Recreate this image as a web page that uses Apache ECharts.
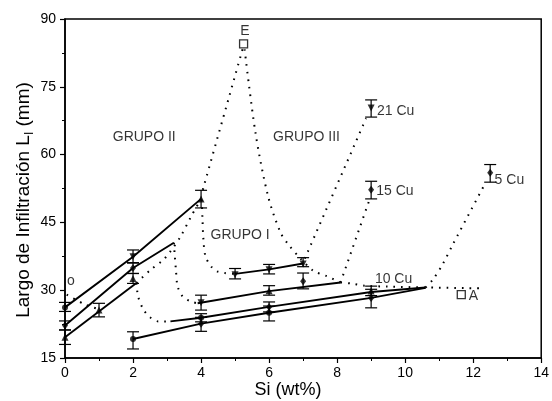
<!DOCTYPE html>
<html><head><meta charset="utf-8">
<script src="https://cdn.jsdelivr.net/npm/echarts@6/dist/echarts.min.js"></script>
<style>html,body{margin:0;padding:0;background:#fff}#c{width:552px;height:401px}</style>
</head><body><div id="c"></div>
<script>
// Solid lines
const line1 = [[0,26.2],[2,37.4],[4,50.2]];
const line2 = [[0,22.2],[2,34.9],[3.2,40.5]];
const line3 = [[0,19.6],[2.1,31.6]];
const line4 = [[3.9,27.1],[6,29.8],[8.1,31.7]];
const line5 = [[3.1,23.1],[4,23.9],[6,26.3],[9,29.6],[10.6,30.6]];
const line6 = [[2,19.2],[4,22.6],[6,25.0],[9,28.3],[10.6,30.5]];
const line7 = [[5,33.6],[6,34.6],[7,35.9]];
// Dotted curves
const dot1 = [[0.05,29],[0.6,26.8],[1,25.8]];
const dot2 = [[2.1,31.6],[2.5,34.4],[2.9,36.8],[3.1,38.6],[3.4,41.9],[3.7,46.2],[4,50.2]];
const dot3 = [[4.05,52.2],[5.22,83.3]];
const dot4 = [[5.28,83.3],[5.6,64.8],[5.97,50.8],[6.34,42.7],[6.6,39.8],[6.9,37.2],[7.3,34.3],[7.7,33.1],[8.1,31.7]];
const dot5 = [[4.02,50],[4.04,46],[4.07,41.2],[4.13,37.5],[4.3,35.2],[4.46,34.2],[4.7,33.8],[5,33.6]];
const dot6 = [[3.2,40.5],[3.22,38.3],[3.26,34.6],[3.31,30.9],[3.46,28.6],[3.7,27.5],[3.9,27.1]];
const dot7 = [[2.1,31.6],[2.15,28.6],[2.3,25.8],[2.5,24],[2.75,23.1],[3.1,23.1]];
const dot8 = [[7.05,37],[8.85,68]];
const dot9 = [[8.1,31.7],[8.96,50.2]];
const dot10 = [[8.1,31.7],[8.4,31.5],[8.8,31],[9.5,30.8],[10.6,30.6],[12.3,30.4]];
const dot11 = [[10.6,30.6],[10.8,32.2],[11.1,35.7],[11.4,40.1],[12.35,53.6]];
// Markers
const downTri = [[2,37.4],[4,27.2],[5,33.4],[6,34.5],[7,35.8],[9,70.3]];
const upTri = [[0,19.6],[2,32.6],[4,50.2],[6,29.9],[9,29.8],[1,25.6]];
const diamonds = [[0,22.2],[2,34.9],[4,22.6],[6,26.3],[7,32],[9,28.3],[9,52.2],[12.5,56]];
const circles = [[2,19.2],[4,23.9],[6,25],[0,26.2]];
const openSquares = [[5.25,84.5],[11.65,29]];
// Error bars [x, low, high]
const errBars = [[0,25.3,27.3],[0,21.2,23.2],[0,18,21.2],[1,24.1,27.1],
  [2,36,38.9],[2,33.7,36.1],[2,31.5,33.7],[2,17,20.8],
  [4,48.2,52.1],[4,25.6,28.9],[4,23,24.8],[4,20.9,24],
  [5,32.5,34.8],[6,33.6,35.7],[6,28.9,31],[6,25.2,27.4],[6,23.2,26.5],
  [7,35.2,37.2],[7,30.3,33.8],[9,28.8,30.9],[9,26.1,30.2],
  [9,50.2,54.1],[9,68.3,72.1],[12.5,53.9,57.8]];
// Text labels
const labelsCenter = [['GRUPO II',2.33,63.9],['GRUPO III',7.1,63.9],['GRUPO I',5.15,42.2],['E',5.29,87.3],['A',12.01,28.7],['o',0.17,31.9]];
const labelsLeft = [['21 Cu',9.17,69.6],['15 Cu',9.15,51.9],['5 Cu',12.63,54.4],['10 Cu',9.11,32.5]];

const FONT = 'Liberation Sans, Arial, sans-serif';
const solid = d => ({type:'line', data:d, symbol:'none', silent:true, lineStyle:{color:'#000', width:1.9}});
const dotted = d => ({type:'line', data:d, symbol:'none', silent:true, smooth:0.3, lineStyle:{color:'#000', width:2, type:[1.6,6]}});
const chart = echarts.init(document.getElementById('c'));
const axisCommon = {
  type:'value',
  axisLine:{show:true, onZero:false, lineStyle:{color:'#000', width:1.5}},
  axisTick:{show:true, length:5, lineStyle:{color:'#000', width:1.2}},
  minorTick:{show:true, splitNumber:2, length:3, lineStyle:{color:'#000', width:1}},
  splitLine:{show:false},
  axisLabel:{color:'#000', fontSize:14, fontFamily:FONT}
};
chart.setOption({
  animation:false,
  backgroundColor:'#fff',
  grid:{left:65, right:6, top:19, bottom:43, show:true, borderColor:'#000', borderWidth:1.5},
  xAxis:Object.assign({}, axisCommon, {min:0, max:14, interval:2, axisLabel:Object.assign({}, axisCommon.axisLabel, {margin:8})}),
  yAxis:Object.assign({}, axisCommon, {min:15, max:90, interval:15, axisLabel:Object.assign({}, axisCommon.axisLabel, {margin:9})}),
  graphic:[
    {type:'text', x:288, y:390, style:{text:'Si (wt%)', fontSize:18, fontFamily:FONT, fill:'#000', align:'center', verticalAlign:'middle'}},
    {type:'text', x:24, y:200, rotation:Math.PI/2, style:{
      text:'{a|Largo de Infiltración L}{s|I}{a| (mm)}', align:'center', verticalAlign:'middle', fill:'#000',
      rich:{a:{fontSize:19, fontFamily:FONT, lineHeight:23, fill:'#000'}, s:{fontSize:12, fontFamily:FONT, lineHeight:12, verticalAlign:'bottom', fill:'#000'}}
    }}
  ],
  series:[
    dotted(dot1), dotted(dot2), dotted(dot3), dotted(dot4), dotted(dot5), dotted(dot6),
    dotted(dot7), dotted(dot8), dotted(dot9), dotted(dot10), dotted(dot11),
    solid(line1), solid(line2), solid(line3), solid(line4), solid(line5), solid(line6), solid(line7),
    {type:'custom', data:errBars, silent:true, renderItem:(params, api) => {
      const x = api.value(0), lo = api.coord([x, api.value(1)]), hi = api.coord([x, api.value(2)]);
      const w = 6, st = {stroke:'#000', lineWidth:1.2};
      return {type:'group', children:[
        {type:'line', shape:{x1:hi[0], y1:hi[1], x2:lo[0], y2:lo[1]}, style:st},
        {type:'line', shape:{x1:hi[0]-w, y1:hi[1], x2:hi[0]+w, y2:hi[1]}, style:st},
        {type:'line', shape:{x1:lo[0]-w, y1:lo[1], x2:lo[0]+w, y2:lo[1]}, style:st}
      ]};
    }},
    {type:'scatter', data:downTri, symbol:'triangle', symbolRotate:180, symbolSize:7, itemStyle:{color:'#000'}, silent:true},
    {type:'scatter', data:upTri, symbol:'triangle', symbolSize:7, itemStyle:{color:'#000'}, silent:true},
    {type:'scatter', data:diamonds, symbol:'diamond', symbolSize:[6,8], itemStyle:{color:'#000'}, silent:true},
    {type:'scatter', data:circles, symbol:'circle', symbolSize:6, itemStyle:{color:'#000'}, silent:true},
    {type:'scatter', data:openSquares, symbol:'rect', symbolSize:8, itemStyle:{color:'#fff', borderColor:'#000', borderWidth:1.3}, silent:true},
    {type:'scatter', silent:true, symbolSize:0, data:labelsCenter.map(l => ({name:l[0], value:[l[1], l[2]]})),
      label:{show:true, position:'inside', formatter:'{b}', color:'#000', fontSize:14, fontFamily:FONT}},
    {type:'scatter', silent:true, symbolSize:0, data:labelsLeft.map(l => ({name:l[0], value:[l[1], l[2]]})),
      label:{show:true, position:'right', distance:0, formatter:'{b}', color:'#000', fontSize:14, fontFamily:FONT}}
  ]
});
</script></body></html>
